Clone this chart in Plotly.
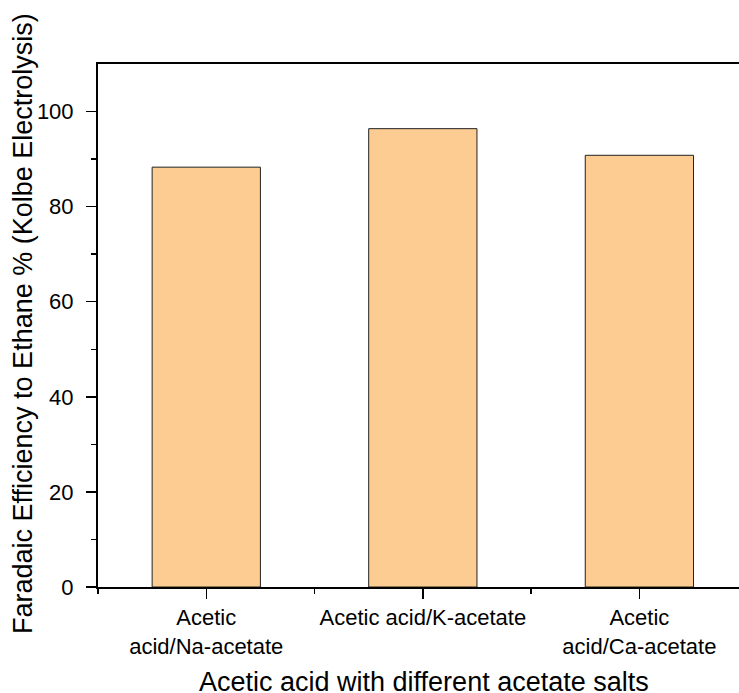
import plotly.graph_objects as go

categories = ["Acetic<br>acid/Na-acetate", "Acetic acid/K-acetate", "Acetic<br>acid/Ca-acetate"]
efficiency = [88.3, 96.4, 90.8]
positions = [0, 1, 2]
y_ticks = [0, 20, 40, 60, 80, 100]

FONT = "Liberation Sans, Arial, sans-serif"
W, H = 739, 693
L, R, T, B = 98, 0, 64, 106

fig = go.Figure()
fig.add_trace(go.Bar(
    x=positions, y=efficiency, width=0.5,
    marker=dict(color="#FDCC92", line=dict(color="#222222", width=1)),
))

fig.update_layout(
    width=W, height=H,
    margin=dict(l=L, r=R, t=T, b=B, autoexpand=False),
    paper_bgcolor="white", plot_bgcolor="white",
    showlegend=False,
    font=dict(family=FONT, color="black"),
    bargap=0,
)
fig.update_xaxes(
    range=[-0.5, 2.46], tickmode="array", tickvals=positions, ticktext=categories,
    showline=True, linecolor="black", linewidth=2, mirror=True,
    ticks="outside", ticklen=10, tickwidth=1.5, tickcolor="black",
    tickfont=dict(size=22, family=FONT, color="black"),
    minor=dict(tickvals=[-0.5, 0.5, 1.5], ticks="outside", ticklen=5, tickwidth=1.5, tickcolor="black"),
    showgrid=False, zeroline=False, fixedrange=True,
)
fig.update_yaxes(
    range=[0, 110], tickmode="array", tickvals=y_ticks,
    showline=True, linecolor="black", linewidth=2,
    ticks="outside", ticklen=10, tickwidth=1.5, tickcolor="black",
    tickfont=dict(size=22, family=FONT, color="black"),
    ticklabelstandoff=8,
    minor=dict(tickvals=[10, 30, 50, 70, 90], ticks="outside", ticklen=5, tickwidth=1.5, tickcolor="black"),
    showgrid=False, zeroline=False, fixedrange=True,
)

pw = W - L - R
ph = H - T - B
fig.add_annotation(
    text="Faradaic Efficiency to Ethane % (Kolbe Electrolysis)",
    xref="paper", yref="paper",
    x=(23 - L) / pw, y=(H - B - 324) / ph,
    xanchor="center", yanchor="middle", textangle=-90, showarrow=False,
    borderpad=0,
    font=dict(size=27, family=FONT, color="black"),
)
fig.add_annotation(
    text="Acetic acid with different acetate salts",
    xref="paper", yref="paper",
    x=(424 - L) / pw, y=-(682 - (H - B)) / ph,
    xanchor="center", yanchor="middle", showarrow=False,
    borderpad=0,
    font=dict(size=27, family=FONT, color="black"),
)

fig.write_html(
    "out.html",
    config={"displayModeBar": False, "staticPlot": True},
    post_script="document.body.style.margin='0';document.body.style.overflow='hidden';",
)
